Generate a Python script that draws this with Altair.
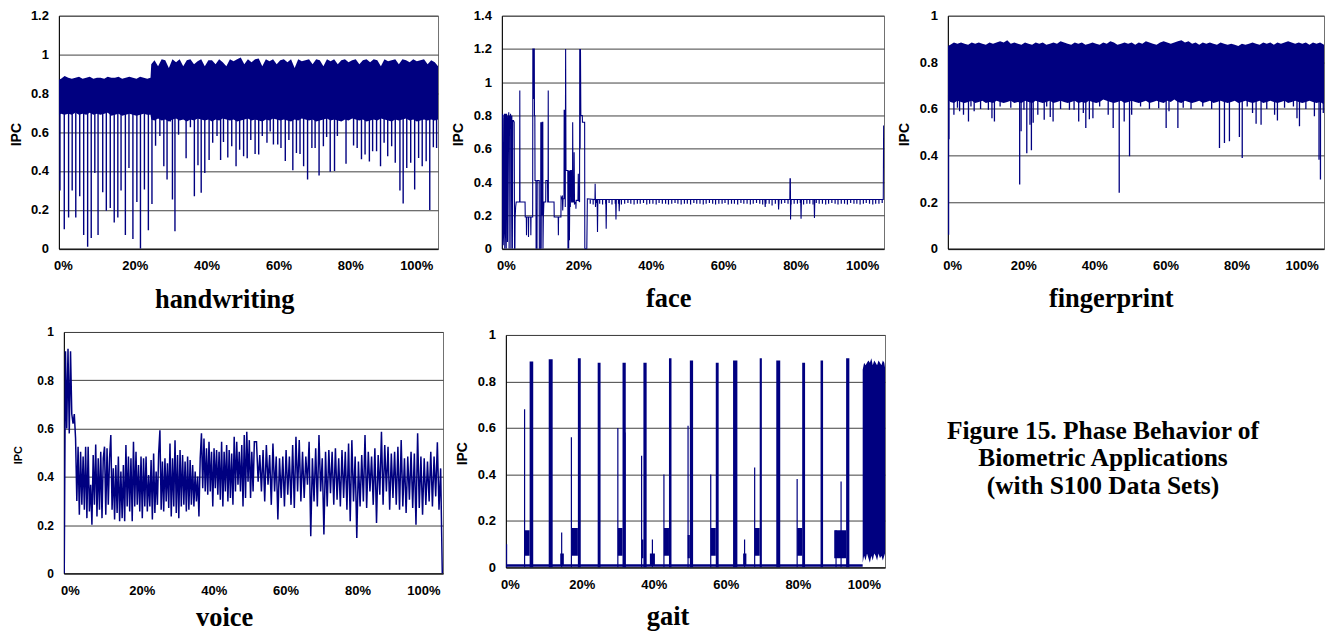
import altair as alt
import pandas as pd

NAVY = "#000080"
SANS = "Liberation Sans"
SERIF = "Liberation Serif"

X_TICKS = [0, 20, 40, 60, 80, 100]
Y_TICKS = [0, 0.2, 0.4, 0.6, 0.8, 1.0, 1.2, 1.4]
CAPTION = ["Figure 15. Phase Behavior of", "Biometric Applications", "(with S100 Data Sets)"]

# ---------------- handwriting ----------------
hw_band_x = [-1.1, -0.5] + [k + 0.5 for k in range(24)] + [24.4, 24.6] + [k + 0.5 for k in range(25, 104)] + [104.4]
hw_band_hi = [0.87, 0.875, 0.89, 0.88, 0.875, 0.88, 0.885, 0.875, 0.88, 0.885,
              0.875, 0.88, 0.88, 0.875, 0.885, 0.88, 0.88, 0.885, 0.875, 0.88,
              0.885, 0.88, 0.875, 0.885, 0.88, 0.875, 0.88,
              0.95, 0.97, 0.94, 0.975, 0.97, 0.93, 0.975, 0.96, 0.975, 0.94,
              0.97, 0.975, 0.95, 0.965, 0.975, 0.94, 0.97, 0.97, 0.95, 0.975,
              0.96, 0.94, 0.975, 0.965, 0.975, 0.985, 0.95, 0.975, 0.96, 0.975,
              0.98, 0.94, 0.975, 0.965, 0.975, 0.95, 0.97, 0.975, 0.96, 0.975,
              0.93, 0.975, 0.965, 0.97, 0.975, 0.95, 0.975, 0.97, 0.94, 0.975,
              0.965, 0.975, 0.95, 0.97, 0.975, 0.96, 0.97, 0.975, 0.95, 0.97,
              0.975, 0.96, 0.975, 0.97, 0.94, 0.975, 0.965, 0.97, 0.975, 0.95,
              0.975, 0.97, 0.96, 0.975, 0.965, 0.97, 0.975, 0.95, 0.97, 0.96,
              0.94]
hw_band_lo = [0.69, 0.695, 0.69, 0.695, 0.69, 0.7, 0.69, 0.695, 0.69, 0.7,
              0.69, 0.695, 0.69, 0.695, 0.7, 0.685, 0.69, 0.695, 0.685, 0.69,
              0.695, 0.69, 0.685, 0.69, 0.695, 0.69, 0.69,
              0.665, 0.66, 0.67, 0.66, 0.665, 0.655, 0.665, 0.67, 0.66, 0.665,
              0.655, 0.665, 0.66, 0.67, 0.665, 0.66, 0.665, 0.655, 0.665, 0.66,
              0.67, 0.665, 0.66, 0.665, 0.655, 0.66, 0.665, 0.67, 0.66, 0.665,
              0.66, 0.655, 0.665, 0.66, 0.67, 0.665, 0.66, 0.665, 0.66, 0.655,
              0.665, 0.66, 0.67, 0.665, 0.66, 0.665, 0.655, 0.66, 0.665, 0.67,
              0.66, 0.665, 0.66, 0.655, 0.665, 0.66, 0.67, 0.665, 0.66, 0.665,
              0.655, 0.66, 0.665, 0.66, 0.67, 0.665, 0.66, 0.655, 0.665, 0.66,
              0.665, 0.67, 0.66, 0.665, 0.655, 0.66, 0.665, 0.66, 0.665, 0.66,
              0.665]
hw_dip_x = [-0.8, 0.4, 1.6, 2.6, 3.6, 4.7, 5.8, 6.9, 7.9, 8.9, 9.8, 11.1, 12.1, 13.2, 14.3,
            15.3, 16.2, 17.4, 18.4, 19.5, 20.6, 21.6, 22.7, 23.8, 24.8,
            25.8, 27.0, 28.1, 29.0, 29.9, 30.5, 31.2, 32.2, 34.3, 35.5,
            36.6, 37.6, 38.5, 39.5, 40.7, 41.7, 42.9, 43.9, 44.7, 45.9,
            47.0, 48.2, 49.2, 50.3, 51.3, 52.3, 53.5, 54.5, 55.5, 56.8,
            57.7, 58.6, 59.8, 60.7, 61.9, 62.9, 64.0, 65.0, 66.0, 67.0,
            68.1, 69.3, 70.2, 71.3, 72.5, 73.4, 74.4, 75.6, 76.4, 78.8,
            80.9, 81.9, 83.1, 84.1, 85.3, 86.2, 87.3, 88.4, 89.4, 90.4,
            91.5, 92.5, 93.8, 94.7, 95.7, 96.8, 97.9, 99.0, 100.0, 101.1,
            102.1, 103.1, 104.0]
hw_dip_y = [0.30, 0.10, 0.16, 0.30, 0.16, 0.27, 0.07, 0.01, 0.055, 0.39, 0.07, 0.29, 0.195, 0.21, 0.135,
            0.16, 0.30, 0.07, 0.415, 0.05, 0.24, 0.0, 0.305, 0.095, 0.23,
            0.53, 0.58, 0.425, 0.356, 0.655, 0.253, 0.09, 0.587, 0.466, 0.625,
            0.27, 0.43, 0.288, 0.39, 0.457, 0.545, 0.58, 0.457, 0.55, 0.47,
            0.527, 0.425, 0.51, 0.476, 0.466, 0.56, 0.488, 0.485, 0.58, 0.545,
            0.604, 0.536, 0.536, 0.519, 0.452, 0.56, 0.404, 0.493, 0.488, 0.425,
            0.356, 0.519, 0.519, 0.377, 0.527, 0.575, 0.396, 0.40, 0.58, 0.438,
            0.531, 0.519, 0.46, 0.485, 0.449, 0.502, 0.502, 0.425, 0.545, 0.476,
            0.527, 0.442, 0.30, 0.233, 0.416, 0.442, 0.305, 0.467, 0.425, 0.45,
            0.199, 0.522, 0.519]

# ---------------- face ----------------
face_x = [-1.1, -1.0, -0.85, -0.75, -0.6, -0.5, -0.4, -0.3, -0.2, -0.1,
          0.0, 0.1, 0.2, 0.35, 0.45, 0.55, 0.7, 0.8, 0.9, 1.0,
          1.15, 1.3, 1.4, 1.5, 1.65, 1.8, 1.9, 2.1, 2.3, 2.4,
          2.5, 2.55, 2.7, 2.85, 3.8, 3.85, 3.9, 5.3, 5.35, 5.65,
          5.7, 5.75, 6.2, 6.25, 6.3, 6.85, 6.9, 6.95, 7.4, 7.45,
          7.55, 7.6, 7.7, 7.85, 7.9, 8.0, 8.05, 8.3, 8.35, 8.6,
          8.65, 9.2, 9.25, 9.6, 9.65, 9.75, 9.85, 9.95, 10.05, 10.2,
          10.25, 10.35, 10.5, 11.0, 11.05, 11.5, 11.55, 11.65, 11.7, 11.75,
          13.3, 13.35, 14.45, 14.5, 14.55, 15.2, 15.25, 15.5, 15.6, 15.7,
          15.8, 16.05, 16.1, 16.2, 16.3, 16.4, 16.5, 16.6, 17.1, 17.15,
          17.25, 17.35, 17.45, 17.55, 17.7, 17.8, 17.9, 18.1, 18.15, 18.4,
          18.45, 18.55, 18.8, 18.85, 18.95, 19.3, 19.35, 19.4, 19.9, 20.0,
          20.1, 20.35, 20.4, 20.5, 20.6, 20.7, 21.1, 21.15, 21.75, 21.8,
          22.35, 22.5, 24.6, 24.65, 24.75, 24.85, 25.2, 25.3, 25.4, 27.6,
          27.7, 27.8, 30.3, 30.4, 30.5, 31.2, 31.3, 31.4, 71.5, 71.6,
          71.7, 75.2, 75.3, 75.4, 78.4, 78.45, 78.55, 78.6, 78.7, 81.4,
          81.5, 81.6, 85.1, 85.2, 85.3, 104.2, 104.3]
face_y = [0.0, 0.81, 0.8, 0.02, 0.1, 0.78, 0.81, 0.0, 0.08, 0.81,
          0.72, 0.0, 0.81, 0.72, 0.04, 0.8, 0.74, 0.82, 0.0, 0.8,
          0.72, 0.81, 0.0, 0.78, 0.8, 0.0, 0.77, 0.77, 0.76, 0.0,
          0.0, 0.18, 0.25, 0.28, 0.28, 0.95, 0.28, 0.28, 0.19, 0.19,
          0.08, 0.19, 0.19, 0.07, 0.19, 0.19, 0.08, 0.19, 0.19, 1.2,
          1.2, 0.9, 1.2, 1.2, 0.8, 0.8, 0.41, 0.41, 0.0, 0.0,
          0.41, 0.41, 0.0, 0.0, 0.76, 0.0, 0.76, 0.2, 0.76, 0.76,
          0.0, 0.18, 0.28, 0.28, 0.41, 0.41, 0.28, 0.28, 0.95, 0.28,
          0.28, 0.19, 0.19, 0.08, 0.19, 0.19, 0.31, 0.3, 0.32, 0.23,
          0.3, 0.3, 0.835, 0.3, 0.835, 0.25, 1.2, 0.47, 0.47, 0.0,
          0.47, 0.0, 0.47, 0.05, 0.47, 0.25, 0.47, 0.47, 0.28, 0.28,
          0.76, 0.28, 0.28, 0.58, 0.27, 0.28, 0.24, 0.29, 0.29, 0.45,
          0.29, 0.28, 1.2, 0.6, 1.2, 0.8, 0.8, 0.76, 0.76, 0.0,
          0.0, 0.3, 0.295, 0.39, 0.25, 0.295, 0.295, 0.1, 0.295, 0.295,
          0.12, 0.295, 0.295, 0.175, 0.295, 0.295, 0.225, 0.295, 0.295, 0.25,
          0.295, 0.295, 0.235, 0.295, 0.295, 0.42, 0.42, 0.175, 0.295, 0.295,
          0.18, 0.295, 0.295, 0.185, 0.295, 0.295, 0.74]
face_tick_x = [23.3, 24.1, 25.0, 25.9, 26.7, 27.6, 28.5, 29.3, 30.2, 31.1,
               31.9, 32.8, 33.7, 34.5, 35.4, 36.3, 37.1, 38.0, 38.9, 39.7,
               40.6, 41.5, 42.3, 43.2, 44.1, 44.9, 45.8, 46.7, 47.5, 48.4,
               49.3, 50.1, 51.0, 51.9, 52.7, 53.6, 54.5, 55.3, 56.2, 57.1,
               57.9, 58.8, 59.7, 60.5, 61.4, 62.3, 63.1, 64.0, 64.9, 65.7,
               66.6, 67.5, 68.3, 69.2, 70.1, 70.9, 71.8, 72.7, 73.5, 74.4,
               75.3, 76.1, 77.0, 77.9, 78.7, 79.6, 80.5, 81.3, 82.2, 83.1,
               83.9, 84.8, 85.7, 86.5, 87.4, 88.3, 89.1, 90.0, 90.9, 91.7,
               92.6, 93.5, 94.3, 95.2, 96.1, 96.9, 97.8, 98.7, 99.5, 100.4,
               101.3, 102.1, 103.0, 103.9]
face_tick_y = [0.27, 0.265, 0.275, 0.27, 0.265, 0.27, 0.275, 0.265, 0.27, 0.27,
               0.265, 0.27, 0.275, 0.27, 0.265, 0.27, 0.27, 0.275, 0.265, 0.27,
               0.27, 0.265, 0.275, 0.27, 0.27, 0.265, 0.27, 0.275, 0.27, 0.265,
               0.27, 0.27, 0.265, 0.275, 0.27, 0.27, 0.265, 0.27, 0.275, 0.27,
               0.265, 0.27, 0.27, 0.275, 0.265, 0.27, 0.27, 0.265, 0.275, 0.27,
               0.27, 0.265, 0.27, 0.275, 0.27, 0.265, 0.27, 0.27, 0.26, 0.27,
               0.265, 0.27, 0.275, 0.27, 0.265, 0.27, 0.27, 0.275, 0.265, 0.27,
               0.27, 0.265, 0.275, 0.27, 0.27, 0.265, 0.27, 0.275, 0.27, 0.265,
               0.27, 0.27, 0.265, 0.275, 0.27, 0.27, 0.265, 0.27, 0.275, 0.27,
               0.265, 0.27, 0.27, 0.275]

# ---------------- fingerprint ----------------
fp_band_x = [-1.2, -0.5] + [k + 0.5 for k in range(104)] + [104.6]
fp_band_hi = [0.87, 0.875, 0.885, 0.88, 0.885, 0.88, 0.875, 0.885, 0.88, 0.885,
              0.88, 0.875, 0.885, 0.88, 0.885, 0.89, 0.885, 0.895, 0.88, 0.885,
              0.88, 0.875, 0.885, 0.88, 0.875, 0.885, 0.88, 0.885, 0.875, 0.88,
              0.885, 0.88, 0.89, 0.885, 0.88, 0.875, 0.885, 0.88, 0.885, 0.875,
              0.88, 0.885, 0.88, 0.875, 0.885, 0.88, 0.89, 0.885, 0.875, 0.88,
              0.885, 0.88, 0.885, 0.875, 0.885, 0.88, 0.89, 0.885, 0.88, 0.875,
              0.885, 0.89, 0.885, 0.88, 0.885, 0.89, 0.895, 0.885, 0.89, 0.88,
              0.885, 0.875, 0.885, 0.88, 0.885, 0.88, 0.875, 0.885, 0.88, 0.875,
              0.88, 0.875, 0.87, 0.88, 0.875, 0.88, 0.885, 0.88, 0.875, 0.885,
              0.88, 0.885, 0.875, 0.885, 0.88, 0.885, 0.89, 0.885, 0.88, 0.885,
              0.88, 0.885, 0.875, 0.885, 0.88, 0.885, 0.875]
fp_band_lo = [0.64, 0.63, 0.625, 0.635, 0.63, 0.625, 0.63, 0.635, 0.625, 0.63,
              0.635, 0.625, 0.63, 0.625, 0.635, 0.63, 0.625, 0.63, 0.635, 0.625,
              0.63, 0.625, 0.635, 0.63, 0.625, 0.635, 0.63, 0.625, 0.63, 0.635,
              0.625, 0.63, 0.635, 0.63, 0.625, 0.63, 0.635, 0.625, 0.63, 0.625,
              0.635, 0.63, 0.625, 0.63, 0.64, 0.635, 0.63, 0.625, 0.63, 0.635,
              0.625, 0.63, 0.635, 0.63, 0.625, 0.63, 0.635, 0.625, 0.63, 0.635,
              0.63, 0.625, 0.635, 0.63, 0.64, 0.63, 0.625, 0.635, 0.63, 0.625,
              0.63, 0.635, 0.625, 0.63, 0.635, 0.625, 0.63, 0.635, 0.63, 0.625,
              0.63, 0.635, 0.625, 0.63, 0.635, 0.63, 0.625, 0.63, 0.635, 0.625,
              0.63, 0.635, 0.63, 0.625, 0.63, 0.635, 0.625, 0.63, 0.635, 0.63,
              0.625, 0.63, 0.635, 0.63, 0.625, 0.63, 0.62]
fp_dip_x = [-1.0, -0.9, 0.5, 2.1, 3.2, 4.6, 6.2, 10.2, 11.2, 11.9,
            19.0, 19.4, 20.2, 21.0, 21.9, 22.3, 22.8, 24.1, 25.9, 27.6,
            28.4, 33.0, 34.3, 35.6, 36.9, 37.6, 38.6, 39.6, 43.9, 45.3,
            47.0, 48.4, 49.9, 50.5, 58.1, 60.2, 61.0, 63.5, 75.2, 76.6,
            78.0, 80.8, 81.6, 84.5, 85.5, 86.9, 90.7, 91.5, 97.0, 97.7,
            101.9, 103.2, 103.6, 104.4,
            1.5, 5.3, 8.0, 13.5, 16.5, 26.6, 30.5, 41.5, 53.0, 55.5,
            65.0, 67.2, 70.5, 73.0, 83.0, 88.5, 93.5, 96.0, 99.5]
fp_dip_y = [0.06, 0.47, 0.575, 0.59, 0.575, 0.546, 0.59, 0.596, 0.56, 0.546,
            0.275, 0.504, 0.596, 0.41, 0.532, 0.422, 0.54, 0.575, 0.553, 0.565,
            0.546, 0.596, 0.596, 0.546, 0.582, 0.518, 0.556, 0.56, 0.575, 0.518,
            0.24, 0.546, 0.397, 0.575, 0.603, 0.518, 0.59, 0.518, 0.432, 0.454,
            0.461, 0.479, 0.389, 0.582, 0.536, 0.532, 0.575, 0.55, 0.56, 0.525,
            0.568, 0.382, 0.297, 0.582,
            0.605, 0.61, 0.6, 0.61, 0.605, 0.61, 0.6, 0.61, 0.61, 0.6,
            0.605, 0.6, 0.61, 0.6, 0.61, 0.6, 0.605, 0.61, 0.6]

# ---------------- voice ----------------
voice_a = [0.0, 0.92, 0.6, 0.93, 0.58, 0.92, 0.66, 0.62, 0.66, 0.56, 0.30,
           0.525, 0.243, 0.504, 0.284, 0.484, 0.264, 0.525, 0.229, 0.525, 0.257,
           0.367, 0.202, 0.49, 0.284, 0.534, 0.236, 0.477, 0.264, 0.504, 0.229,
           0.477, 0.525, 0.243, 0.518, 0.284, 0.477, 0.573, 0.264, 0.435, 0.223,
           0.449, 0.25, 0.484, 0.216, 0.422, 0.229, 0.449, 0.216, 0.532, 0.277,
           0.484, 0.257, 0.477, 0.216, 0.545, 0.277, 0.504, 0.284, 0.449, 0.257,
           0.484, 0.229, 0.477, 0.277, 0.484, 0.257, 0.408, 0.277, 0.47, 0.223,
           0.497, 0.25, 0.422, 0.284, 0.497, 0.593, 0.264, 0.463, 0.257, 0.477,
           0.298, 0.456, 0.271, 0.538, 0.236, 0.477, 0.277, 0.552, 0.25, 0.49,
           0.229, 0.511, 0.277, 0.49, 0.284, 0.463, 0.257, 0.484, 0.264, 0.47,
           0.284, 0.449, 0.277, 0.422, 0.298, 0.401, 0.236, 0.477, 0.58,
           0.353, 0.559, 0.339, 0.518, 0.326, 0.545, 0.339, 0.504, 0.277, 0.518,
           0.353, 0.511, 0.326, 0.504, 0.305, 0.545, 0.277, 0.504, 0.339, 0.532,
           0.298, 0.511, 0.312, 0.497, 0.284, 0.566, 0.339, 0.545, 0.367, 0.504,
           0.339, 0.532, 0.277, 0.573, 0.312, 0.587, 0.38, 0.552, 0.312, 0.504,
           0.339, 0.545]
voice_b = [0.545, 0.38, 0.49, 0.339, 0.511, 0.298, 0.532, 0.367, 0.49, 0.284,
           0.538, 0.339, 0.484, 0.223, 0.477, 0.312, 0.484, 0.277, 0.511, 0.326,
           0.484, 0.284, 0.532, 0.271, 0.566, 0.339, 0.552, 0.298, 0.504, 0.312,
           0.484, 0.367, 0.545, 0.154, 0.477, 0.298, 0.518, 0.277, 0.573, 0.339,
           0.477, 0.161, 0.504, 0.277, 0.511, 0.332, 0.504, 0.284, 0.518, 0.305,
           0.477, 0.277, 0.511, 0.312, 0.504, 0.264, 0.538, 0.216, 0.552, 0.298,
           0.484, 0.147, 0.463, 0.277, 0.49, 0.298, 0.573, 0.271, 0.504, 0.339,
           0.484, 0.284, 0.518, 0.209, 0.49, 0.326, 0.587, 0.284, 0.532, 0.339,
           0.525, 0.264, 0.497, 0.312, 0.504, 0.284, 0.525, 0.264, 0.552, 0.277,
           0.477, 0.25, 0.484, 0.305, 0.504, 0.271, 0.497, 0.202, 0.58, 0.271,
           0.484, 0.243, 0.477, 0.284, 0.463, 0.298, 0.504, 0.277, 0.484, 0.319,
           0.543, 0.264, 0.435, 0.0]
VOICE_A_RANGE = [-1.6, 51.3]
VOICE_B_RANGE = [51.9, 103.6]

# ---------------- gait ----------------
gait_base_x = [-1.1, 98.0]
gait_base_y = [0.008, 0.008]
gait_pulse_x0 = [5.5, 10.8, 18.9, 24.4, 31.3, 37.1, 44.2, 50.0, 57.2, 62.0, 69.4, 74.0, 81.2, 86.3, 93.4]
gait_pulse_x1 = [6.5, 11.9, 19.7, 25.2, 32.2, 38.0, 44.9, 50.9, 58.0, 63.2, 70.0, 75.1, 82.0, 87.0, 94.3]
gait_pulse_top = [0.886, 0.896, 0.90, 0.88, 0.88, 0.88, 0.90, 0.89, 0.88, 0.89, 0.90, 0.89, 0.88, 0.89, 0.90]
gait_cl_x0 = [4.1, 14.0, 17.1, 30.0, 36.6, 38.9, 42.8, 49.4, 55.8, 64.8, 68.0, 79.8, 90.1]
gait_cl_x1 = [5.5, 15.0, 18.9, 31.3, 37.1, 40.3, 44.2, 50.0, 57.2, 65.7, 69.4, 81.2, 93.4]
gait_cl_lo = [0.05, 0.01, 0.05, 0.05, 0.04, 0.01, 0.05, 0.04, 0.05, 0.01, 0.05, 0.05, 0.04]
gait_cl_hi = [0.16, 0.06, 0.17, 0.17, 0.12, 0.06, 0.17, 0.14, 0.17, 0.06, 0.17, 0.17, 0.16]
gait_spike_x = [-0.9, 4.1, 14.4, 17.1, 30.0, 32.0, 36.6, 39.6, 42.8, 49.5, 55.8, 65.2, 68.0, 79.8, 92.0, 90.6]
gait_spike_y = [0.10, 0.68, 0.15, 0.56, 0.60, 0.58, 0.48, 0.12, 0.40, 0.61, 0.40, 0.12, 0.43, 0.38, 0.37, 0.16]
gait_end_x = [98.0, 98.4, 98.8, 99.2, 99.6, 100.0, 100.4, 100.8, 101.2, 101.6, 102.0, 102.4, 102.8, 103.2, 103.6, 104.0, 104.2]
gait_end_hi = [0.85, 0.88, 0.87, 0.88, 0.89, 0.88, 0.90, 0.87, 0.89, 0.88, 0.87, 0.89, 0.88, 0.87, 0.89, 0.88, 0.86]
gait_end_lo = [0.02, 0.05, 0.03, 0.06, 0.04, 0.02, 0.05, 0.03, 0.06, 0.05, 0.03, 0.06, 0.04, 0.05, 0.03, 0.05, 0.06]


def frame(**cols):
    n = min(len(v) for v in cols.values())
    d = {k: list(v)[:n] for k, v in cols.items()}
    d["i"] = list(range(n))
    return pd.DataFrame(d)


def spread(vals, rng):
    n = len(vals)
    return [rng[0] + (rng[1] - rng[0]) * k / (n - 1) for k in range(n)]


def make_enc(h, xdom, ymax, name, tx, ty, ytx, ylab=13, ytit=14):
    xs = alt.Scale(domain=xdom, nice=False, zero=False)
    ys = alt.Scale(domain=[0, ymax], nice=False, zero=False)
    xa = alt.Axis(values=X_TICKS, labelExpr="datum.value + '%'", labelFont=SANS, labelFontSize=13,
                  labelFontWeight="bold", labelColor="black", labelPadding=11, labelFlush=False,
                  labelOffset={"condition": {"test": "datum.value == 100", "value": -6}, "value": 0},
                  ticks=False, tickSize=0, grid=False, domainColor="black", domainWidth=1,
                  title=name, titleFont=SERIF, titleFontSize=26.5, titleFontWeight="bold",
                  titleColor="black", titleX=tx, titleY=ty, titleAlign="center",
                  titleBaseline="alphabetic")
    yvals = [v for v in Y_TICKS if v <= ymax + 1e-9]
    ya = alt.Axis(values=yvals, format="~g", labelFont=SANS, labelFontSize=ylab,
                  labelFontWeight="bold", labelColor="black", labelPadding=10.5,
                  ticks=False, tickSize=0, grid=True, gridColor="#404040", gridWidth=1,
                  domainColor="black", domainWidth=1, title="IPC", titleFont=SANS,
                  titleFontSize=ytit, titleFontWeight="bold", titleColor="black",
                  titleX=ytx, titleY=h / 2 + 2, titleAlign="center", titleBaseline="middle")

    def X(f="x"):
        return alt.X(f + ":Q", scale=xs, axis=xa)

    def Y(f="y"):
        return alt.Y(f + ":Q", scale=ys, axis=ya)

    return X, Y


def panel(layers, w, h):
    return alt.layer(*layers).properties(
        width=w, height=h, view=alt.ViewBackground(stroke="#707070", strokeWidth=1))


# ---- handwriting panel
W1, H1 = 380, 233.5
X, Y = make_enc(H1, [-1.1, 104.4], 1.2, "handwriting", 165.7, 58.5, -42.7)
p1 = panel([
    alt.Chart(frame(x=hw_band_x, lo=hw_band_lo, hi=hw_band_hi)).mark_area(color=NAVY, clip=True)
    .encode(x=X(), y=Y("lo"), y2=alt.Y2("hi:Q")),
    alt.Chart(frame(x=hw_dip_x, y=hw_dip_y)).mark_rule(color=NAVY, strokeWidth=1.4, clip=True)
    .encode(x=X(), y=Y(), y2=alt.datum(0.7)),
], W1, H1)

# ---- face panel
W2, H2 = 383, 233.5
X, Y = make_enc(H2, [-1.1, 104.4], 1.4, "face", 166.7, 57.5, -43.7)
p2 = panel([
    alt.Chart(frame(x=face_tick_x, y=face_tick_y)).mark_rule(color=NAVY, strokeWidth=1.2, clip=True)
    .encode(x=X(), y=Y(), y2=alt.datum(0.295)),
    alt.Chart(frame(x=face_x, y=face_y)).mark_line(color=NAVY, strokeWidth=1.1, clip=True)
    .encode(x=X(), y=Y(), order=alt.Order("i:Q")),
], W2, H2)

# ---- fingerprint panel
W3, H3 = 377, 233.5
X, Y = make_enc(H3, [-1.2, 104.6], 1.0, "fingerprint", 163.3, 57.5, -43)
p3 = panel([
    alt.Chart(frame(x=fp_band_x, lo=fp_band_lo, hi=fp_band_hi)).mark_area(color=NAVY, clip=True)
    .encode(x=X(), y=Y("lo"), y2=alt.Y2("hi:Q")),
    alt.Chart(frame(x=fp_dip_x, y=fp_dip_y)).mark_rule(color=NAVY, strokeWidth=1.3, clip=True)
    .encode(x=X(), y=Y(), y2=alt.datum(0.66)),
], W3, H3)

# ---- voice panel
W4, H4 = 380, 242
X, Y = make_enc(H4, [-1.7, 103.8], 1.0, "voice", 160.7, 52, -45.8, ylab=12, ytit=11)
voice_df = pd.concat([
    frame(x=spread(voice_a, VOICE_A_RANGE), y=voice_a),
    frame(x=spread(voice_b, VOICE_B_RANGE), y=voice_b),
], ignore_index=True)
voice_df["i"] = range(len(voice_df))
p4 = panel([
    alt.Chart(voice_df).mark_line(color=NAVY, strokeWidth=1.5, clip=True)
    .encode(x=X(), y=Y(), order=alt.Order("i:Q")),
], W4, H4)

# ---- gait panel
W5, H5 = 380, 233
X, Y = make_enc(H5, [-1.1, 104.2], 1.0, "gait", 162, 57.5, -43.2)
p5 = panel([
    alt.Chart(frame(x=gait_base_x, y=gait_base_y)).mark_line(color=NAVY, strokeWidth=2.5, clip=True)
    .encode(x=X(), y=Y()),
    alt.Chart(frame(x=gait_cl_x0, x2=gait_cl_x1, lo=gait_cl_lo, hi=gait_cl_hi)).mark_rect(color=NAVY, clip=True)
    .encode(x=X(), x2=alt.X2("x2:Q"), y=Y("lo"), y2=alt.Y2("hi:Q")),
    alt.Chart(frame(x=gait_spike_x, y=gait_spike_y)).mark_rule(color=NAVY, strokeWidth=1.2, clip=True)
    .encode(x=X(), y=Y(), y2=alt.datum(0.0)),
    alt.Chart(frame(x=gait_pulse_x0, x2=gait_pulse_x1, y=gait_pulse_top)).mark_rect(color=NAVY, clip=True)
    .encode(x=X(), x2=alt.X2("x2:Q"), y=Y(), y2=alt.datum(0.0)),
    alt.Chart(frame(x=gait_end_x, lo=gait_end_lo, hi=gait_end_hi)).mark_area(color=NAVY, clip=True)
    .encode(x=X(), y=Y("lo"), y2=alt.Y2("hi:Q")),
    alt.Chart(pd.DataFrame({"a": [0]})).mark_text(
        text=CAPTION, font=SERIF, fontSize=25.5, fontWeight="bold", color="black",
        align="center", baseline="alphabetic", lineHeight=27.5)
    .encode(x=alt.value(598.5), y=alt.value(104.3)),
], W5, H5)

spacer_a = alt.Chart(pd.DataFrame({"a": [0]})).mark_point(opacity=0).properties(width=5, height=3)
spacer_b = alt.Chart(pd.DataFrame({"a": [0]})).mark_point(opacity=0).properties(width=1, height=3)

row1 = alt.hconcat(p1, p2, p3, spacing=64, bounds="flush")
inner2 = alt.hconcat(p4, alt.vconcat(spacer_b, p5, spacing=0, bounds="flush"), spacing=63, bounds="flush")
row2 = alt.hconcat(spacer_a, inner2, spacing=0, bounds="flush")

chart = alt.vconcat(row1, row2, spacing=12, bounds="full").properties(
    padding={"left": 0, "top": 0, "right": 0, "bottom": 0},
    background="white",
).configure_view(stroke=None)

chart.save("out.html", embed_options={"renderer": "svg", "actions": False})
